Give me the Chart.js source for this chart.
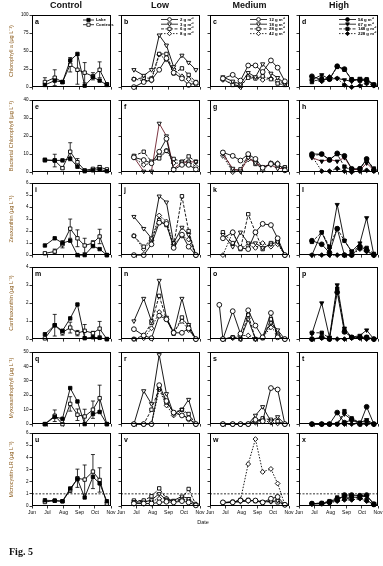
<!DOCTYPE html>
<html><head><meta charset="utf-8">
<script src="https://cdn.jsdelivr.net/npm/chart.js@4/dist/chart.umd.min.js"></script>
<style>
html,body{margin:0;padding:0;}
body{width:383px;height:566px;background:#fff;position:relative;overflow:hidden;font-family:"Liberation Sans",Arial,sans-serif;}
canvas{position:absolute;}
.lbl{position:absolute;white-space:nowrap;color:#111;}
</style></head><body>
<script>
// ---------- axes / categories ----------
const monthDays=[0,30,61,92,122,153];
const monthLabels=['Jun','Jul','Aug','Sep','Oct','Nov'];
const sampleDates=[25,44,59,74,88,102,118,131,145];
const earlyDates=[18,25,44,59,74,88,102,118,131,145];
const treatments=['Control','Low','Medium','High'];
const variables=['Chlorophyll a (µg L⁻¹)','Bacterial Chlorophyll (µg L⁻¹)','Zeaxanthin (µg L⁻¹)','Canthaxanthin (µg L⁻¹)','Myxoxanthophyll (µg L⁻¹)','Microcystin-LR (µg L⁻¹)'];
const yMax=[100,40,6,4,50,6];
const yStep=[25,10,1,1,10,1];
const ctrlLegend=['Lake','Controls'];
const lowLegend=['2 g m⁻²','3 g m⁻²','6 g m⁻²','8 g m⁻²'];
const medLegend=['12 g m⁻²','18 g m⁻²','28 g m⁻²','42 g m⁻²'];
const highLegend=['54 g m⁻²','67 g m⁻²','148 g m⁻²','228 g m⁻²'];
const guideline=1;
const panelLetters='abcdefghijklmnopqrstuvwx';

// ---------- values ----------
// Chlorophyll a
const a_lake=[3,9,7,37,46,2,14,9,3], a_ctrl=[7,13,7,31,24,20,15,24,4], a_err=[6,11,2,10,20,14,5,11,2];
const b_s1=[0,7,10,24,40,20,12,3,6], b_s2=[24,16,24,72,58,28,44,34,24], b_s3=[11,13,12,46,46,19,26,17,7], b_s4=[11,9,9,45,38,25,15,11,4];
const c_s1=[12,17,9,30,30,21,37,27,8], c_s2=[14,8,4,20,14,32,19,13,5], c_s3=[11,3,2,13,12,15,11,5,3], c_s4=[10,5,0,15,13,10,12,9,5];
const d_s1=[15,10,11,29,25,10,10,9,3], d_s2=[10,17,11,12,10,8,12,10,4], d_s3=[7,12,11,28,24,11,9,11,3], d_s4=[10,8,14,12,3,0,2,5,2];
// Bacterial chlorophyll
const e_lake=[6.7,6.5,6.5,7.5,3,0.5,1,1.5,0.5], e_ctrl=[6.7,6.4,2.2,11.3,5.5,1,1.8,2.7,1.5], e_err=[1,3.5,0.5,5,2,0.5,0.5,1,0.5];
const f_s1=[8.2,6.7,4.9,11.3,18.5,1.3,4,4,1.5], f_s2=[8.2,0.4,0.4,27,20,1.8,5.5,5.5,5.8], f_s3=[9,11.3,5.8,7.6,11.8,7.3,5.8,8.7,5.8], f_s4=[8,4,5,9,12,5,5,6,3];
const g_s1=[10.9,9,6.4,10,7.3,2.4,4.5,4.5,1], g_s2=[10,2,0.5,8,5,3,4,2,2], g_s3=[10.9,1,1.5,9.5,4.5,2.2,5,3.3,2.7], g_s4=[9,0,1,7,6,1,5,5,1];
const h_s1=[10,10,6.7,10.4,9,1.8,1.8,7.3,1], h_s2=[8,6,7,6,8,2,1,5,1], h_s3=[9,10,7,10,3,1,2,7,2], h_s4=[9,0.5,0.5,2,0.5,0,0.5,1,0.5];
// Zeaxanthin
const i_lake=[0.8,1.4,1.0,1.2,0,0,0.75,0.5,0], i_ctrl=[0.15,0.3,0.9,2.2,1.4,0.8,1.0,1.55,0], i_err=[0.05,0.2,0.3,0.8,0.7,0.6,0.2,0.6,0];
const j_s1=[0,0,0.9,2.7,2.6,0.6,1.7,0.7,0], j_s2=[3.2,2.2,1.4,4.9,4.4,1.0,2.3,1.7,0], j_s3=[1.6,0.7,1.3,2.9,2.5,0.8,4.9,2.0,0], j_s4=[1.6,0.5,1.2,3.3,2.8,0.9,1.6,1.3,0];
const k_s1=[1.4,1.9,0.6,0.5,1.9,2.6,2.5,1.4,0], k_s2=[1.7,0.7,1.9,1.0,1.0,0.6,0.9,1.1,0], k_s3=[1.9,1.0,0.5,3.4,1.9,0.5,1.0,1.2,0], k_s4=[0,1.9,0.6,0.8,0.6,1.0,0.7,0.9,0];
const l_s1=[1.2,0.9,0.2,2.2,0,0,0.7,0.4,0], l_s2=[0,1.9,0.5,4.2,1.2,0.3,1.0,3.1,0], l_s3=[1.1,1.9,0.7,2.2,1.2,0.3,0.7,0.6,0.1], l_s4=[0,0,0,0,0,0,0.5,0.3,0];
// Canthaxanthin
const m_lake=[0.27,0.77,0.46,1.15,1.92,0.05,0.1,0.07,0], m_ctrl=[0.04,0.77,0.37,0.64,0.33,0.46,0.33,0.58,0], m_err=[0,0.6,0.15,0.3,0.15,0.35,0.1,0.4,0];
const n_s1=[0.55,0.2,0.05,1.3,1.1,0.35,0.35,0.6,0], n_s2=[1.0,2.25,1.0,3.25,1.2,0.35,2.25,0.8,0], n_s3=[0,0.2,0.9,2.4,1.1,0.3,1.2,0.7,0], n_s4=[0,0.05,0.6,1.5,1.1,0.4,1.0,0.5,0];
const o_s1=[1.9,0,1.55,0.3,1.6,0.75,0.1,1.45,0.1,0], o_s2=[0,0.1,0,1.1,0,0.1,0.9,0.5,0], o_s3=[0,0.1,0,1.35,0,0.05,1.1,0.2,0], o_s4=[0,0.05,0.2,0.2,0,0.1,0.65,0.3,0];
const p_s1=[0,0.1,0,2.6,0.4,0.1,0.1,0.1,0], p_s2=[0.3,2.0,0.1,3.0,0.6,0.1,0.2,0.5,0], p_s3=[0.35,0.35,0.05,2.8,0.5,0.1,0.1,0.1,0], p_s4=[0,0.05,0,0,0,0.05,0.05,0,0];
// Myxoxanthophyll
const q_lake=[0,5,3.7,25,15.7,0,7,8.4,0], q_ctrl=[0,5.8,0,14,6.5,5.3,10,18,0], q_err=[0,4,0,5,4,5,6,9,0];
const r_s1=[0,0,0,27,16,8,6,4,0], r_s2=[0,23,14,48,21,7,10,17,0], r_s3=[0,0,10,25,15,8,10,7,0], r_s4=[0,0,0,24,13,6,8,3,0];
const s_s1=[0,0,0,0,3,2,25,24,0], s_s2=[0,0,0,0,6,12,2,5,0], s_s3=[0,0,0,0,2,4,3,2,0], s_s4=[0,0,0,0,1,3,1,0.5,0];
const t_s1=[0,0,0,8,1,3,0,12,0], t_s2=[0,0,0,0,7,3,1,3,0], t_s3=[0,0,0,0,9,4,1,2,0], t_s4=[0,0,0,0,0,0,0,0,0];
// Microcystin-LR
const u_lake=[0.47,0.44,0.39,1.44,2.2,0.7,2.4,1.86,0.39], u_ctrl=[0.33,0.44,0.39,1.3,2.28,2.17,2.83,2.14,0.2], u_err=[0.05,0.05,0.05,0.2,0.75,1.2,1.4,1.0,0.1];
const v_s1=[0.2,0.2,0.2,0.3,0.35,0.3,0.4,0.3,0.05], v_s2=[0.35,0.3,0.5,1.0,0.5,0.45,0.8,0.6,0.1], v_s3=[0.45,0.45,0.8,1.45,0.6,0.4,0.6,1.4,0.1], v_s4=[0.3,0.4,0.4,0.6,0.6,0.35,0.5,0.5,0.15];
const w_s1=[0.3,0.3,0.45,0.45,0.45,0.3,0.6,0.75,0.1], w_s2=[0.25,0.3,0.35,0.4,0.45,0.35,0.35,0.45,0.1], w_s3=[0.3,0.35,0.5,0.5,0.4,0.3,0.4,0.3,0.1], w_s4=[0.3,0.3,0.5,3.45,5.5,2.8,3.05,1.85,0.1];
const x_s1=[0.2,0.2,0.3,0.5,0.9,0.9,0.85,0.9,0.15], x_s2=[0.15,0.2,0.35,0.6,0.75,0.7,0.75,0.8,0.2], x_s3=[0.2,0.25,0.4,0.7,0.6,0.65,0.7,0.5,0.1], x_s4=[0.2,0.2,0.25,0.4,0.5,0.5,0.6,0.4,0.1];

// ---------- panels ----------
const panels=[
 {series:[a_lake,a_ctrl],err:a_err},{series:[b_s1,b_s2,b_s3,b_s4]},{series:[c_s1,c_s2,c_s3,c_s4]},{series:[d_s1,d_s2,d_s3,d_s4]},
 {series:[e_lake,e_ctrl],err:e_err},{series:[f_s1,f_s2,f_s3,f_s4]},{series:[g_s1,g_s2,g_s3,g_s4]},{series:[h_s1,h_s2,h_s3,h_s4]},
 {series:[i_lake,i_ctrl],err:i_err},{series:[j_s1,j_s2,j_s3,j_s4]},{series:[k_s1,k_s2,k_s3,k_s4]},{series:[l_s1,l_s2,l_s3,l_s4]},
 {series:[m_lake,m_ctrl],err:m_err},{series:[n_s1,n_s2,n_s3,n_s4]},{series:[o_s1,o_s2,o_s3,o_s4],dates:[earlyDates]},{series:[p_s1,p_s2,p_s3,p_s4]},
 {series:[q_lake,q_ctrl],err:q_err},{series:[r_s1,r_s2,r_s3,r_s4]},{series:[s_s1,s_s2,s_s3,s_s4]},{series:[t_s1,t_s2,t_s3,t_s4]},
 {series:[u_lake,u_ctrl],err:u_err},{series:[v_s1,v_s2,v_s3,v_s4]},{series:[w_s1,w_s2,w_s3,w_s4]},{series:[x_s1,x_s2,x_s3,x_s4]}
];
const legends=[ctrlLegend,lowLegend,medLegend,highLegend];

// ---------- layout & style ----------
const FONT='"Liberation Sans", Arial, sans-serif';
const colLeft=[32,121,210,299], panelW=79;
const rowTop=[15,100,183,267,352,433], panelH=73;
const TITLE_COLOR='#8a5a1a';
const MAROON='#6e1f2c';

function seriesStyle(col,i,row){
  if(col===0){
    return [{ps:'rect',rot:0,fill:'#000',dash:[],line:'#000'},{ps:'rect',rot:0,fill:'#fff',dash:[],line:'#000'}][i];
  }
  const shapes=[['circle',0],['triangle',180],['rect',0],['rectRot',0]];
  const dashes=[[],[],[3,1.5],[1.5,1.5]];
  return {ps:shapes[i][0],rot:shapes[i][1],fill:col===3?'#000':'#fff',dash:dashes[i],line:(row===1&&i===1)?MAROON:'#000'};
}

function drawMarker(ctx,ps,rot,x,y,r,fill){
  ctx.save();ctx.translate(x,y);ctx.rotate(rot*Math.PI/180);
  ctx.beginPath();
  if(ps==='circle'){ctx.arc(0,0,r,0,Math.PI*2);}
  else if(ps==='rect'){ctx.rect(-r*0.85,-r*0.85,r*1.7,r*1.7);}
  else if(ps==='rectRot'){ctx.moveTo(0,-r*1.1);ctx.lineTo(r*1.1,0);ctx.lineTo(0,r*1.1);ctx.lineTo(-r*1.1,0);ctx.closePath();}
  else if(ps==='triangle'){ctx.moveTo(0,-r*1.1);ctx.lineTo(r*1.0,r*0.7);ctx.lineTo(-r*1.0,r*0.7);ctx.closePath();}
  ctx.fillStyle=fill;ctx.fill();ctx.lineWidth=0.8;ctx.strokeStyle='#000';ctx.stroke();
  ctx.restore();
}

const decoPlugin={
  id:'deco',
  beforeDatasetsDraw(chart,args,o){
    const ctx=chart.ctx,ys=chart.scales.y;
    ctx.save();
    chart.data.datasets.forEach((ds,di)=>{
      if(!ds.errVals) return;
      const meta=chart.getDatasetMeta(di);
      ds.data.forEach((pt,k)=>{
        const e=ds.errVals[k]; if(!e) return;
        const px=meta.data[k].x;
        const top=ys.getPixelForValue(pt.y+e), bot=ys.getPixelForValue(Math.max(0,pt.y-e));
        ctx.strokeStyle='#000';ctx.lineWidth=0.8;ctx.beginPath();
        ctx.moveTo(px,top);ctx.lineTo(px,bot);
        ctx.moveTo(px-2,top);ctx.lineTo(px+2,top);
        ctx.moveTo(px-2,bot);ctx.lineTo(px+2,bot);
        ctx.stroke();
      });
    });
    ctx.restore();
  },
  afterDraw(chart,args,o){
    const ctx=chart.ctx,a=chart.chartArea;
    ctx.save();
    ctx.strokeStyle='#000';ctx.lineWidth=1;
    ctx.strokeRect(Math.round(a.left)+0.5,Math.round(a.top)+0.5,Math.round(a.right-a.left)-1,Math.round(a.bottom-a.top)-1);
    ctx.fillStyle='#000';ctx.font='bold 7px '+FONT;ctx.textBaseline='middle';ctx.textAlign='left';
    ctx.fillText(o.letter,a.left+3,a.top+7);
    if(o.legend){
      ctx.font='bold 4.3px '+FONT;
      const tx=a.right-(o.col===0?15:20);
      o.legend.forEach((txt,i)=>{
        const st=o.styles[i];
        const y=a.top+(o.col===0?5:4.5)+i*4.7;
        const x0=tx-(o.col===0?13:19), x1=tx-2;
        ctx.strokeStyle=st.line;ctx.lineWidth=0.8;ctx.setLineDash(st.dash);
        ctx.beginPath();ctx.moveTo(x0,y);ctx.lineTo(x1,y);ctx.stroke();ctx.setLineDash([]);
        drawMarker(ctx,st.ps,st.rot,(x0+x1)/2,y,1.9,st.fill);
        ctx.fillStyle='#000';ctx.fillText(txt,tx,y+0.3);
      });
    }
    ctx.restore();
  }
};

panels.forEach((p,idx)=>{
  const r=Math.floor(idx/4),c=idx%4;
  const yw=c===0?32:6, padTop=5, padRight=6, xh=r===5?14:4;
  const W=yw+panelW+padRight,H=padTop+panelH+xh;
  const cv=document.createElement('canvas');
  cv.width=W;cv.height=H;
  cv.style.left=(colLeft[c]-yw)+'px';cv.style.top=(rowTop[r]-padTop)+'px';
  cv.style.width=W+'px';cv.style.height=H+'px';
  document.body.appendChild(cv);
  const styles=p.series.map((s,i)=>seriesStyle(c,i,r));
  const datasets=p.series.map((vals,i)=>{
    const dates=(p.dates&&p.dates[i])?p.dates[i]:sampleDates;
    const st=styles[i];
    return {
      label:(legends[c][i]||''),
      data:vals.map((v,k)=>({x:dates[k],y:v})),
      errVals:(c===0&&i===1)?p.err:null,
      borderColor:st.line,borderWidth:0.9,borderDash:st.dash,
      pointStyle:st.ps,rotation:st.rot,pointRadius:2.4,pointBorderWidth:0.9,
      pointBackgroundColor:st.fill,pointBorderColor:'#000',
      tension:0,clip:false,fill:false
    };
  });
  if(r===5){
    datasets.push({label:'guideline',data:[{x:0,y:guideline},{x:153,y:guideline}],borderColor:'#000',borderWidth:0.8,borderDash:[2,1.5],pointRadius:0,fill:false,order:10});
  }
  new Chart(cv,{
    type:'line',
    data:{datasets},
    plugins:[decoPlugin],
    options:{
      responsive:false,animation:false,devicePixelRatio:1,
      layout:{padding:{top:padTop,right:padRight,left:0,bottom:0}},
      plugins:{legend:{display:false},tooltip:{enabled:false},
        deco:{letter:panelLetters[idx],col:c,legend:r===0?legends[c]:null,styles}},
      scales:{
        x:{type:'linear',min:0,max:153,
          afterBuildTicks:s=>{s.ticks=monthDays.map(v=>({value:v}));},
          afterFit:s=>{s.height=xh;},
          grid:{display:true,drawOnChartArea:false,drawTicks:true,tickLength:2.5,color:'#000',lineWidth:0.8},
          border:{display:false},
          ticks:{display:r===5,autoSkip:false,maxRotation:0,minRotation:0,padding:1,color:'#000',
            font:{size:5,family:FONT},callback:v=>{const k=monthDays.indexOf(v);return k>=0?monthLabels[k]:'';}}
        },
        y:{min:0,max:yMax[r],
          afterFit:s=>{s.width=yw;},
          grid:{display:true,drawOnChartArea:false,drawTicks:true,tickLength:2.5,color:'#000',lineWidth:0.8},
          border:{display:false},
          ticks:{stepSize:yStep[r],padding:1,color:'#000',font:{size:4.5,family:FONT},callback:v=>c===0?String(v):''},
          title:{display:c===0,text:variables[r],color:TITLE_COLOR,font:{size:5.5,family:FONT},padding:{top:8,bottom:0}}
        }
      }
    }
  });
});

// ---------- HTML text ----------
function addLabel(text,cx,cy,size,weight,family,align){
  const d=document.createElement('div');d.className='lbl';d.textContent=text;
  d.style.fontSize=size+'px';d.style.lineHeight=size+'px';d.style.fontWeight=weight;
  if(family) d.style.fontFamily=family;
  d.style.top=(cy-size/2)+'px';
  d.style.left=cx+'px';
  if(align!=='left') d.style.transform='translateX(-50%)';
  document.body.appendChild(d);
}
const titleCenters=[66,160,249.5,339];
treatments.forEach((t,i)=>addLabel(t,titleCenters[i],5,9,'bold'));
addLabel('Date',203,523,5.5,'normal');
addLabel('Fig. 5',9,552,10,'bold','"Liberation Serif","Times New Roman",serif','left');
</script>
</body></html>
